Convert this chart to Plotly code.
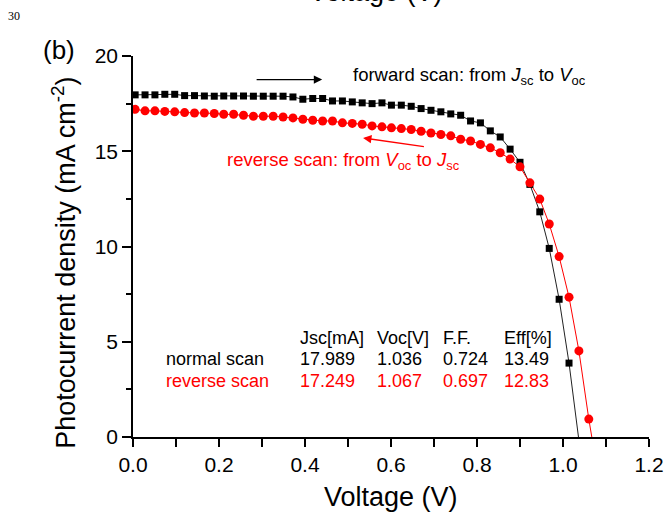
import plotly.graph_objects as go

# ---------------- data ----------------
voltage = [0.005, 0.028, 0.051, 0.074, 0.097, 0.120, 0.143, 0.166, 0.189, 0.211,
           0.234, 0.257, 0.280, 0.303, 0.326, 0.349, 0.372, 0.395, 0.418, 0.441,
           0.464, 0.487, 0.510, 0.533, 0.556, 0.579, 0.601, 0.624, 0.647, 0.670,
           0.693, 0.716, 0.739, 0.762, 0.785, 0.808, 0.831, 0.854, 0.877, 0.900,
           0.923, 0.946, 0.968, 0.991, 1.014, 1.037, 1.060]

forward_j = [17.96, 17.96, 17.96, 17.99, 17.99, 17.92, 17.92, 17.90, 17.89, 17.90,
             17.90, 17.90, 17.89, 17.89, 17.89, 17.89, 17.85, 17.73, 17.77, 17.77,
             17.64, 17.64, 17.59, 17.54, 17.50, 17.54, 17.42, 17.42, 17.36, 17.24,
             17.15, 17.07, 16.96, 16.89, 16.59, 16.49, 16.07, 15.75, 15.11, 14.42,
             13.26, 11.82, 9.90, 7.23, 3.88]

reverse_j = [17.20, 17.12, 17.12, 17.09, 17.07, 17.03, 17.01, 17.01, 16.98, 16.94,
             16.94, 16.89, 16.84, 16.84, 16.84, 16.80, 16.75, 16.68, 16.63, 16.59,
             16.59, 16.49, 16.46, 16.42, 16.33, 16.28, 16.23, 16.19, 16.14, 16.05,
             15.96, 15.88, 15.81, 15.63, 15.54, 15.36, 15.18, 14.92, 14.59, 14.18,
             13.34, 12.49, 11.18, 9.47, 7.34, 4.52, 0.94]

table_header = ["Jsc[mA]", "Voc[V]", "F.F.", "Eff[%]"]
table_rows = ["normal scan", "reverse scan"]
jsc_vals = ["17.989", "17.249"]
voc_vals = [1.036, 1.067]
ff_vals = ["0.724", "0.697"]
eff_vals = ["13.49", "12.83"]

x_ticks = [0.0, 0.2, 0.4, 0.6, 0.8, 1.0, 1.2]
y_ticks = [0, 5, 10, 15, 20]

# ---------------- geometry helpers ----------------
W, H = 665, 515
L, R, T, B = 133, 649, 56, 437.3
PW, PH = R - L, B - T


def px(x):
    return (x - L) / PW


def py(y):
    return (B - y) / PH


FONT = "Liberation Sans, Arial, sans-serif"
RED = "#ff0000"

nf = len(forward_j)
nr = len(reverse_j)

fig = go.Figure()

# thin connecting lines ending at Voc
fig.add_trace(go.Scatter(
    x=voltage[:nf] + [voc_vals[0]], y=forward_j + [0],
    mode="lines", line=dict(color="#222222", width=1),
    showlegend=False, hoverinfo="skip", cliponaxis=True))
fig.add_trace(go.Scatter(
    x=voltage[:nr] + [voc_vals[1]], y=reverse_j + [0],
    mode="lines", line=dict(color=RED, width=1),
    showlegend=False, hoverinfo="skip", cliponaxis=True))

# markers
fig.add_trace(go.Scatter(
    x=voltage[:nf], y=forward_j, mode="markers",
    marker=dict(symbol="square", size=7, color="black", line=dict(width=0)),
    showlegend=False, cliponaxis=True))
fig.add_trace(go.Scatter(
    x=voltage[:nr], y=reverse_j, mode="markers",
    marker=dict(symbol="circle", size=9, color=RED, line=dict(width=0)),
    showlegend=False, cliponaxis=True))

ann = []

# scan direction labels
ann.append(dict(xref="paper", yref="paper", x=px(351), y=py(76),
                xanchor="left", yanchor="middle", showarrow=False,
                text="forward scan: from <i>J</i><sub>sc</sub> to <i>V</i><sub>oc</sub>",
                font=dict(family=FONT, size=18.5, color="black")))
ann.append(dict(xref="paper", yref="paper", x=px(225), y=py(161),
                xanchor="left", yanchor="middle", showarrow=False,
                text="reverse scan: from <i>V</i><sub>oc</sub> to <i>J</i><sub>sc</sub>",
                font=dict(family=FONT, size=18.5, color=RED)))

# arrows
ann.append(dict(xref="x", yref="y", axref="x", ayref="y",
                x=0.440, y=18.76, ax=0.284, ay=18.76, text="",
                showarrow=True, arrowhead=2, arrowsize=1.2, arrowwidth=1.4,
                arrowcolor="black"))
ann.append(dict(xref="x", yref="y", axref="x", ayref="y",
                x=0.535, y=15.70, ax=0.680, ay=15.23, text="",
                showarrow=True, arrowhead=2, arrowsize=1.2, arrowwidth=1.4,
                arrowcolor=RED))

# table
col_x = [298, 375, 441, 502]
row_y = [338.5, 359.5, 381]
for cx, h in zip(col_x, table_header):
    ann.append(dict(xref="paper", yref="paper", x=px(cx), y=py(row_y[0]),
                    xanchor="left", yanchor="middle", showarrow=False, text=h,
                    font=dict(family=FONT, size=18, color="black")))
for i, (name, c) in enumerate(zip(table_rows, ["black", RED])):
    vals = [jsc_vals[i], f"{voc_vals[i]:.3f}", ff_vals[i], eff_vals[i]]
    ann.append(dict(xref="paper", yref="paper", x=px(164), y=py(row_y[i + 1]),
                    xanchor="left", yanchor="middle", showarrow=False, text=name,
                    font=dict(family=FONT, size=18, color=c)))
    for cx, v in zip(col_x, vals):
        ann.append(dict(xref="paper", yref="paper", x=px(cx), y=py(row_y[i + 1]),
                        xanchor="left", yanchor="middle", showarrow=False, text=v,
                        font=dict(family=FONT, size=18, color=c)))

# panel label, page number, cut-off title from the panel above
ann.append(dict(xref="paper", yref="paper", x=px(59), y=py(50),
                xanchor="center", yanchor="middle", showarrow=False, text="(b)",
                font=dict(family=FONT, size=26, color="black")))
ann.append(dict(xref="paper", yref="paper", x=px(14), y=py(16),
                xanchor="center", yanchor="middle", showarrow=False, text="30",
                font=dict(family="Liberation Serif, Times New Roman, serif",
                          size=12, color="black")))
ann.append(dict(xref="paper", yref="paper", x=px(376), y=py(-8),
                xanchor="center", yanchor="middle", showarrow=False,
                text="Voltage (V)",
                font=dict(family=FONT, size=27, color="black")))

# axis titles
ann.append(dict(xref="paper", yref="paper", x=px(391), y=py(497),
                xanchor="center", yanchor="middle", showarrow=False,
                text="Voltage (V)",
                font=dict(family=FONT, size=27, color="black")))
ann.append(dict(xref="paper", yref="paper", x=px(64), y=py(263),
                xanchor="center", yanchor="middle", showarrow=False,
                textangle=-90,
                text="Photocurrent density (mA cm<sup>-2</sup>)",
                font=dict(family=FONT, size=27, color="black")))

fig.update_layout(
    width=W, height=H, autosize=False,
    margin=dict(l=L, r=W - R, t=T, b=H - B, pad=0, autoexpand=False),
    paper_bgcolor="white", plot_bgcolor="white",
    annotations=ann,
    xaxis=dict(range=[0, 1.2], tickvals=x_ticks, automargin=False,
               ticktext=[f"{v:.1f}" for v in x_ticks],
               showline=True, linecolor="black", linewidth=1.5,
               ticks="outside", ticklen=8, tickwidth=1.5, tickcolor="black",
               minor=dict(dtick=0.1, ticks="outside", ticklen=8, tickwidth=1.5,
                          tickcolor="black"),
               showgrid=False, zeroline=False,
               tickfont=dict(family=FONT, size=21, color="black")),
    yaxis=dict(range=[0, 20], tickvals=y_ticks, automargin=False,
               showline=True, linecolor="black", linewidth=1.5,
               ticks="outside", ticklen=9, tickwidth=1.5, tickcolor="black",
               minor=dict(dtick=2.5, ticks="outside", ticklen=5, tickwidth=1.5,
                          tickcolor="black"),
               showgrid=False, zeroline=False,
               tickfont=dict(family=FONT, size=21, color="black")),
)

fig.write_html(
    "out.html",
    config={"displayModeBar": False, "responsive": False},
    post_script="document.body.style.margin='0';document.body.style.padding='0';"
                "document.documentElement.style.overflow='hidden';",
)
